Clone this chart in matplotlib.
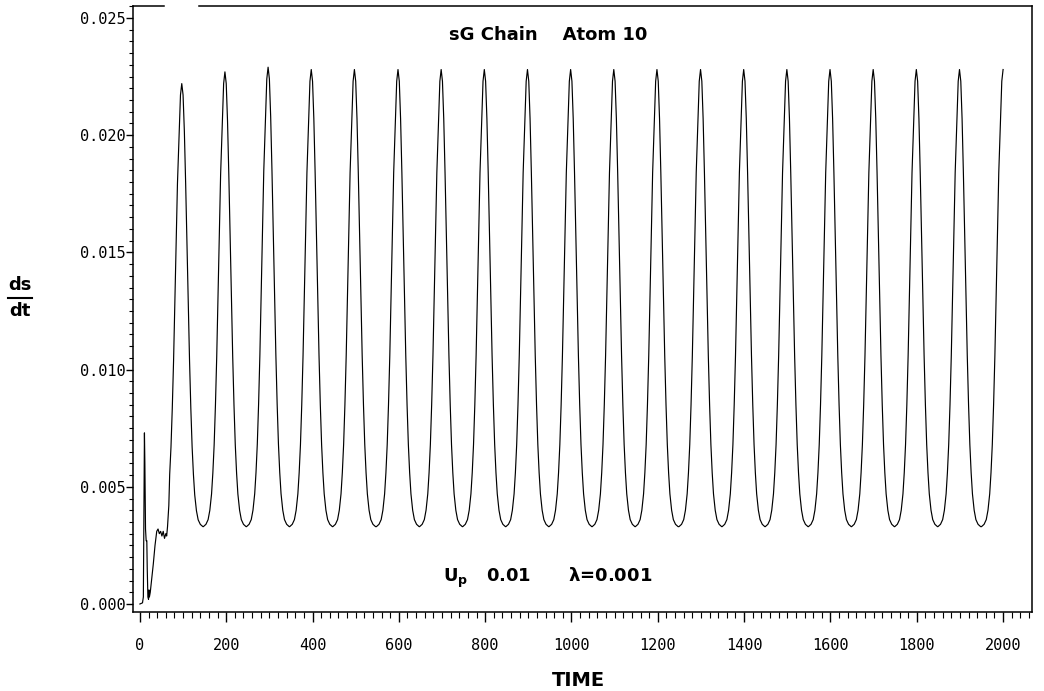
import numpy as np
import matplotlib.pyplot as plt
from matplotlib.lines import Line2D
from matplotlib.ticker import MultipleLocator, FormatStrFormatter

# начальный переходный участок (t, ds/dt)
t_start = [0, 6, 8, 9, 10.5, 11.5, 13, 14.5, 16, 17, 18.5, 20, 21, 22, 24, 27, 31,
           35, 39, 42, 45, 48, 51, 54, 57, 60, 62, 64, 67]
v_start = [0.00000, 0.00005, 0.00030, 0.00300, 0.00730, 0.00600, 0.00320, 0.00270,
           0.00270, 0.00150, 0.00030, 0.00020, 0.00060, 0.00030, 0.00050, 0.00100,
           0.00170, 0.00250, 0.00310, 0.00320, 0.00300, 0.00310, 0.00290, 0.00310,
           0.00280, 0.00300, 0.00290, 0.00330, 0.00420]

# времена и высоты максимумов
peak_t = [97, 197, 297, 397, 497, 598, 698, 798, 898, 998,
          1098, 1198, 1299, 1399, 1499, 1599, 1699, 1799, 1899, 2000]
peak_v = [0.0222, 0.0227, 0.0229, 0.0228, 0.0228, 0.0228, 0.0228, 0.0228, 0.0228, 0.0228,
          0.0228, 0.0228, 0.0228, 0.0228, 0.0228, 0.0228, 0.0228, 0.0228, 0.0228, 0.0228]
trough_v = 0.0033

# форма одного периода относительно максимума (установившийся режим)
cyc_dt = [-50, -44, -39, -35, -31, -28, -25, -22, -19, -16, -13, -10, -6, -3, 0,
          3, 6, 9, 12, 15, 18, 21, 24, 27, 30, 34, 38, 43, 49]
cyc_v = [0.00330, 0.00340, 0.00360, 0.00400, 0.00470, 0.00560, 0.00680, 0.00850,
         0.01060, 0.01310, 0.01580, 0.01840, 0.02070, 0.02230, 0.02280,
         0.02230, 0.02070, 0.01840, 0.01580, 0.01310, 0.01060, 0.00850, 0.00680,
         0.00560, 0.00470, 0.00400, 0.00360, 0.00340, 0.00330]

t = list(t_start)
v = list(v_start)
for k in range(len(peak_t)):
    sc = (peak_v[k] - trough_v) / (max(cyc_v) - trough_v)
    for d, c in zip(cyc_dt, cyc_v):
        if k == 0 and d < -28:
            continue
        tt = peak_t[k] + d
        if tt > 2000 or tt <= t[-1]:
            continue
        t.append(tt)
        v.append(trough_v + (c - trough_v) * sc)

W, H = 1044, 691
fig = plt.figure(figsize=(W / 100, H / 100), dpi=100)
ax = fig.add_axes([133 / W, 1 - 612 / H, 899 / W, 606 / H])

ax.plot(t, v, color='black', lw=0.85)

ax.set_xlim(-16, 2067)
ax.set_ylim(-0.000341, 0.02551)

ax.xaxis.set_major_locator(MultipleLocator(200))
ax.xaxis.set_minor_locator(MultipleLocator(20))
ax.yaxis.set_major_locator(MultipleLocator(0.005))
ax.yaxis.set_minor_locator(MultipleLocator(0.0005))
ax.yaxis.set_major_formatter(FormatStrFormatter('%.3f'))

ax.tick_params(axis='x', which='major', direction='out', length=7, width=1, pad=12)
ax.tick_params(axis='x', which='minor', direction='out', length=4, width=0.8)
ax.tick_params(axis='y', which='major', direction='out', length=5, width=1, pad=0)
ax.tick_params(axis='y', which='minor', direction='out', length=3, width=0.8)
for lab in ax.get_xticklabels() + ax.get_yticklabels():
    lab.set_family('DejaVu Sans Mono')
    lab.set_fontsize(11)

# верхняя рамка с разрывом
ax.spines['top'].set_visible(False)
for sp in ['left', 'right', 'bottom']:
    ax.spines[sp].set_linewidth(1.1)
ax.plot([0, 31 / 899], [1, 1], transform=ax.transAxes, color='black', lw=1.1, clip_on=False)
ax.plot([66 / 899, 1], [1, 1], transform=ax.transAxes, color='black', lw=1.1, clip_on=False)

# подписи
bold = dict(ha='center', va='center', fontweight='bold', family='DejaVu Sans')
fig.text(548 / W, 1 - 35 / H, 'sG Chain    Atom 10', fontsize=13, **bold)
fig.text(548 / W, 1 - 578 / H, r'U$_\mathbf{p}$   0.01      λ=0.001', fontsize=13, **bold)
fig.text(578 / W, 1 - 680 / H, 'TIME', fontsize=14, **bold)

fig.text(20 / W, 1 - 285 / H, 'ds', fontsize=13, **bold)
fig.text(20 / W, 1 - 311 / H, 'dt', fontsize=13, **bold)
fig.add_artist(Line2D([8 / W, 32 / W], [1 - 298 / H, 1 - 298 / H], color='black', lw=1.5))

fig.savefig('out.png', dpi=100)
